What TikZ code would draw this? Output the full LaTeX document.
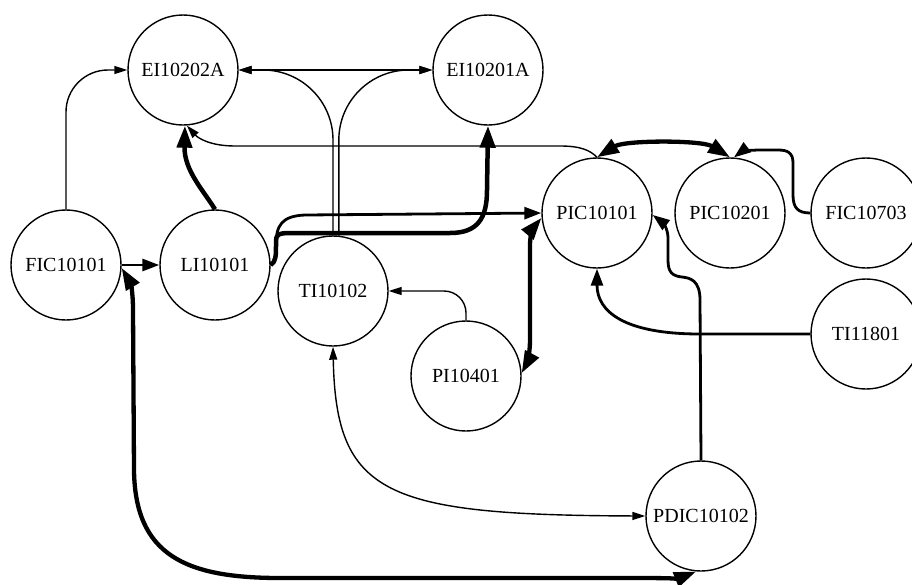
\documentclass[tikz,border=0pt]{standalone}
\usepackage{fontspec}
\setmainfont{Liberation Serif}
\usetikzlibrary{arrows.meta}
\begin{document}
\begin{tikzpicture}[x=1pt,y=-1pt,
  tag/.style={draw, circle, line width=1.4pt, minimum size=110pt, inner sep=0pt,
              font=\fontsize{20}{24}\selectfont},
  tipthin/.tip={Triangle[length=13pt,width=8pt]},
  tipmed/.tip={Triangle[length=17pt,width=12pt]},
  tipthick/.tip={Triangle[length=22pt,width=15pt]},
  linkthin/.style={line width=1.4pt, -tipthin},
  linkthinboth/.style={line width=1.4pt, tipthin-tipthin},
  linkmed/.style={line width=2.8pt, -tipmed},
  linkthick/.style={line width=4.5pt, -tipthick},
  linkthickboth/.style={line width=4.3pt, tipthick-tipthick},
  line join=round]

\fill[white] (0,0) rectangle (912,584);
\useasboundingbox (0,0) rectangle (912,584);

% instrument tags
\node[tag] (ei2a) at (183,70)  {EI10202A};
\node[tag] (ei1a) at (488,70)  {EI10201A};
\node[tag] (fic1) at (66,265)  {FIC10101};
\node[tag] (li)   at (215,265) {LI10101};
\node[tag] (ti2)  at (333,291) {TI10102};
\node[tag] (pi)   at (466,376) {PI10401};
\node[tag] (pic1) at (597,213) {PIC10101};
\node[tag] (pic2) at (730,213) {PIC10201};
\node[tag] (fic7) at (866,213) {FIC10703};
\node[tag] (ti11) at (866,334) {TI11801};
\node[tag] (pdic) at (701,516) {PDIC10102};

% thin links
\draw[linkthin, rounded corners=42pt] (fic1.north) |- (ei2a.west);
\draw[linkthinboth] (ei2a.east) -- (ei1a.west);
\draw[linkthin, rounded corners=70pt] (ti2.north) |- (ei2a.east);
\draw[linkthin, rounded corners=70pt] (ti2.84) |- (ei1a.west);
\draw[linkthin] (pic1.north) .. controls (590,150) and (580,146) .. (560,146)
  -- (235,146) .. controls (210,146) and (198,138) .. (ei2a.-86);
\draw[linkthin, rounded corners=22pt] (pi.north) |- (ti2.east);
\draw[linkthinboth] (ti2.south) .. controls (336,495) and (385,515) .. (pdic.west);

% medium links
\draw[linkmed] (fic1.east) -- (li.west);
\draw[linkmed] (li.east) .. controls (276,262) and (276,255) .. (276,245)
  .. controls (276,225) and (282,216) .. (305,215) -- (pic1.west);
\draw[linkmed] (fic7.west) .. controls (798,213) and (793,208) .. (793,195)
  -- (793,163) .. controls (793,153) and (788,150) .. (778,150)
  -- (760,150) .. controls (750,150) and (741,152) .. (pic2.86);
\draw[linkmed] (ti11.west) -- (700,334) .. controls (625,334) and (597,312) .. (pic1.south);
\draw[linkmed] (pdic.north) -- (700,300) .. controls (700,280) and (690,278) .. (682,277)
  .. controls (672,276) and (668,272) .. (668,260) -- (668,238)
  .. controls (668,228) and (662,222) .. (pic1.-2);

% heavy links
\draw[linkthick] (li.north) .. controls (203,190) and (184,170) .. (ei2a.-88);
\draw[linkthick] (li.east) .. controls (276,262) and (276,255) .. (276,245)
  -- (276,241) .. controls (276,235) and (278,233) .. (290,233) -- (450,233)
  .. controls (478,233) and (487,218) .. (487,190) -- (ei1a.south);
\draw[linkthickboth] (pi.3) .. controls (526,365) and (530,355) .. (530,340)
  -- (530,245) .. controls (530,236) and (533,228) .. (pic1.185);
\draw[linkthickboth] (pic1.north) .. controls (625,140) and (702,140) .. (pic2.north);
\draw[linkthickboth] (fic1.-3) .. controls (130,282) and (133,290) .. (133,310)
  -- (134,470) .. controls (135,555) and (185,578) .. (280,578) -- (620,578)
  .. controls (655,578) and (680,578) .. (pdic.265);

\end{tikzpicture}
\end{document}
